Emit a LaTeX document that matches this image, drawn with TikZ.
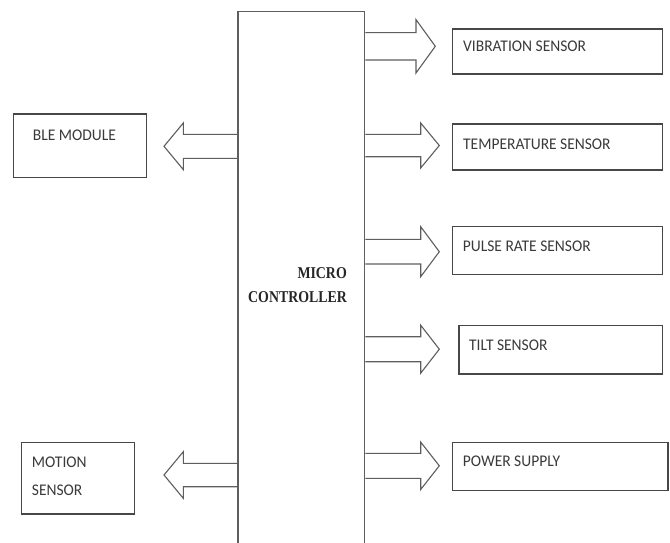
\documentclass[tikz,border=0pt]{standalone}
\usepackage{fontspec}
\setmainfont[FakeStretch=0.95]{Carlito}
\newfontfamily\mcfont[FakeStretch=0.84]{Liberation Serif}
\definecolor{boxc}{HTML}{474747}
\definecolor{arrc}{HTML}{5E5E5E}
\definecolor{txtc}{HTML}{3A3A3A}
\definecolor{mctc}{HTML}{262626}
% right-pointing block arrow: #1 start anchor, #2 y centre, #3 shaft half, #4 head half, #5 head base x, #6 tip x
\newcommand\blockarr[6]{%
  \draw[arr] (#1 |- 0,#2-#3) -- (#5,#2-#3) -- (#5,#2-#4) -- (#6,#2)
    -- (#5,#2+#4) -- (#5,#2+#3) -- (#1 |- 0,#2+#3);}
\begin{document}
\begin{tikzpicture}[x=1pt,y=-1pt,
  box/.style={draw=boxc, line width=1.4pt, inner sep=0pt, anchor=north west},
  lbl/.style={text=txtc, font=\fontsize{16.3}{27.3}\selectfont, inner sep=0pt},
  mct/.style={text=mctc, font=\mcfont\bfseries\fontsize{16.5}{23.7}\selectfont, inner sep=0pt},
  arr/.style={draw=arrc, line width=1.1pt, line join=miter}]
\clip (0,0) rectangle (670,542);
\fill[white] (0,0) rectangle (670,542);
% microcontroller
\node[box, draw=arrc, minimum width=126.7, minimum height=600] (mc) at (237.3,10.7) {};
\node[mct, align=right] (mclabel) at (297.5,285) {MICRO\\CONTROLLER};
% boxes
\node[box, minimum width=210, minimum height=45] (vib) at (451.7,28.3) {};
\node[box, minimum width=210, minimum height=46] (temp) at (451.7,123.3) {};
\node[box, minimum width=210, minimum height=48] (pulse) at (451.7,226) {};
\node[box, minimum width=203.4, minimum height=48.3] (tilt) at (458.3,325) {};
\node[box, minimum width=215.6, minimum height=48.3] (power) at (451.7,441.7) {};
\node[box, minimum width=133, minimum height=63.4] (ble) at (12.7,113.3) {};
\node[box, minimum width=113.3, minimum height=71.6] (motion) at (20.7,441.7) {};
% labels
\node[lbl, anchor=west] (vibt) at (463,46.7) {VIBRATION SENSOR};
\node[lbl, anchor=west] (tempt) at (463,144) {TEMPERATURE SENSOR};
\node[lbl, anchor=west] (pulset) at (462.7,246.7) {PULSE RATE SENSOR};
\node[lbl, anchor=west] (tiltt) at (469,345) {TILT SENSOR};
\node[lbl, anchor=west] (powert) at (462.7,461.7) {POWER SUPPLY};
\node[lbl] (blet) at (74.5,135) {BLE MODULE};
\node[lbl, anchor=west, align=left] (motiont) at (31.7,476.4) {MOTION\\SENSOR};
% arrows
\blockarr{mc.east}{46.3}{13.7}{26.7}{416}{435.3}
\blockarr{mc.east}{145.5}{11.2}{22.5}{420.7}{439.3}
\blockarr{mc.east}{251.7}{12.3}{25}{420.7}{439.3}
\blockarr{mc.east}{349.2}{12.5}{24}{420.7}{439.3}
\blockarr{mc.east}{465.8}{12.5}{23.7}{420.7}{439.3}
\blockarr{mc.west}{146.3}{12}{23.3}{183.3}{164}
\blockarr{mc.west}{475}{11.7}{23.3}{183.3}{164}
\end{tikzpicture}
\end{document}
